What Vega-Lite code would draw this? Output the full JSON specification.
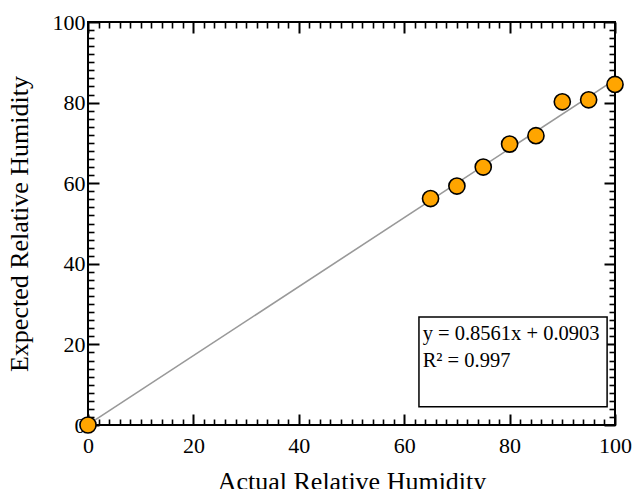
{
  "$schema": "https://vega.github.io/schema/vega-lite/v6.json",
  "width": 527,
  "height": 403,
  "autosize": "none",
  "padding": {"left": 88, "top": 22, "right": 18, "bottom": 64},
  "background": "white",
  "config": {
    "view": {"stroke": "black", "strokeWidth": 2},
    "axis": {
      "domain": false,
      "grid": false,
      "tickColor": "black",
      "labelColor": "black",
      "labelFont": "Liberation Serif",
      "labelFontSize": 22,
      "labelFlush": false,
      "labelOverlap": false,
      "titleFont": "Liberation Serif",
      "titleFontSize": 26,
      "titleFontWeight": "normal",
      "titleColor": "black"
    }
  },
  "datasets": {
    "points": [
      {"actual": 0, "expected": 0},
      {"actual": 65, "expected": 56.2},
      {"actual": 70, "expected": 59.3},
      {"actual": 75, "expected": 64.0},
      {"actual": 80, "expected": 69.7},
      {"actual": 85, "expected": 71.8},
      {"actual": 90, "expected": 80.2},
      {"actual": 95, "expected": 80.7},
      {"actual": 100, "expected": 84.5}
    ],
    "fit": [
      {"actual": 0, "expected": 0.0903},
      {"actual": 100, "expected": 85.7003}
    ],
    "box": [
      {"x1": 62.8, "x2": 98.5, "y1": 4.5, "y2": 26.8}
    ],
    "notes": [
      {"x": 63.5, "y": 21.0, "label": "y = 0.8561x + 0.0903"},
      {"x": 63.5, "y": 14.3, "label": "R² = 0.997"}
    ]
  },
  "layer": [
    {
      "data": {"name": "fit"},
      "mark": {"type": "line", "color": "#999999", "strokeWidth": 1.6},
      "encoding": {
        "x": {
          "field": "actual", "type": "quantitative",
          "scale": {"domain": [0, 100], "nice": false},
          "axis": {
            "orient": "top", "title": null, "labels": false,
            "values": [0,2,4,6,8,10,12,14,16,18,20,22,24,26,28,30,32,34,36,38,40,42,44,46,48,50,52,54,56,58,60,62,64,66,68,70,72,74,76,78,80,82,84,86,88,90,92,94,96,98,100],
            "tickSize": {"condition": {"test": "datum.value % 20 === 0", "value": -11}, "value": -6},
            "tickWidth": {"condition": {"test": "datum.value % 20 === 0", "value": 2}, "value": 1.6}
          }
        },
        "y": {
          "field": "expected", "type": "quantitative",
          "scale": {"domain": [0, 100], "nice": false},
          "axis": {
            "orient": "right", "title": null, "labels": false,
            "values": [0,2,4,6,8,10,12,14,16,18,20,22,24,26,28,30,32,34,36,38,40,42,44,46,48,50,52,54,56,58,60,62,64,66,68,70,72,74,76,78,80,82,84,86,88,90,92,94,96,98,100],
            "tickSize": {"condition": {"test": "datum.value % 20 === 0", "value": -11}, "value": -6},
            "tickWidth": {"condition": {"test": "datum.value % 20 === 0", "value": 2}, "value": 1.6}
          }
        }
      }
    },
    {
      "data": {"name": "box"},
      "mark": {"type": "rect", "fill": "white", "stroke": "black", "strokeWidth": 1.5},
      "encoding": {
        "x": {"field": "x1", "type": "quantitative", "axis": null},
        "x2": {"field": "x2"},
        "y": {"field": "y1", "type": "quantitative", "axis": null},
        "y2": {"field": "y2"}
      }
    },
    {
      "data": {"name": "notes"},
      "mark": {"type": "text", "align": "left", "baseline": "alphabetic", "font": "Liberation Serif", "fontSize": 20.5, "color": "black"},
      "encoding": {
        "x": {"field": "x", "type": "quantitative", "axis": null},
        "y": {"field": "y", "type": "quantitative", "axis": null},
        "text": {"field": "label"}
      }
    },
    {
      "data": {"name": "points"},
      "mark": {"type": "point", "filled": true, "fill": "#FFA500", "stroke": "black", "strokeWidth": 1.6, "size": 260, "opacity": 1},
      "encoding": {
        "x": {
          "field": "actual", "type": "quantitative",
          "axis": {
            "orient": "bottom", "title": "Actual Relative Humidity",
            "values": [0,2,4,6,8,10,12,14,16,18,20,22,24,26,28,30,32,34,36,38,40,42,44,46,48,50,52,54,56,58,60,62,64,66,68,70,72,74,76,78,80,82,84,86,88,90,92,94,96,98,100],
            "labelExpr": "datum.value % 20 === 0 ? datum.label : ''",
            "tickSize": {"condition": {"test": "datum.value % 20 === 0", "value": -11}, "value": -6},
            "tickWidth": {"condition": {"test": "datum.value % 20 === 0", "value": 2}, "value": 1.6},
            "labelPadding": 21,
            "titlePadding": 7
          }
        },
        "y": {
          "field": "expected", "type": "quantitative",
          "axis": {
            "orient": "left", "title": "Expected Relative Humidity",
            "values": [0,2,4,6,8,10,12,14,16,18,20,22,24,26,28,30,32,34,36,38,40,42,44,46,48,50,52,54,56,58,60,62,64,66,68,70,72,74,76,78,80,82,84,86,88,90,92,94,96,98,100],
            "labelExpr": "datum.value % 20 === 0 ? datum.label : ''",
            "tickSize": {"condition": {"test": "datum.value % 20 === 0", "value": -11}, "value": -6},
            "tickWidth": {"condition": {"test": "datum.value % 20 === 0", "value": 2}, "value": 1.6},
            "labelPadding": 14,
            "titlePadding": 20
          }
        }
      }
    }
  ],
  "resolve": {"axis": {"x": "independent", "y": "independent"}}
}
